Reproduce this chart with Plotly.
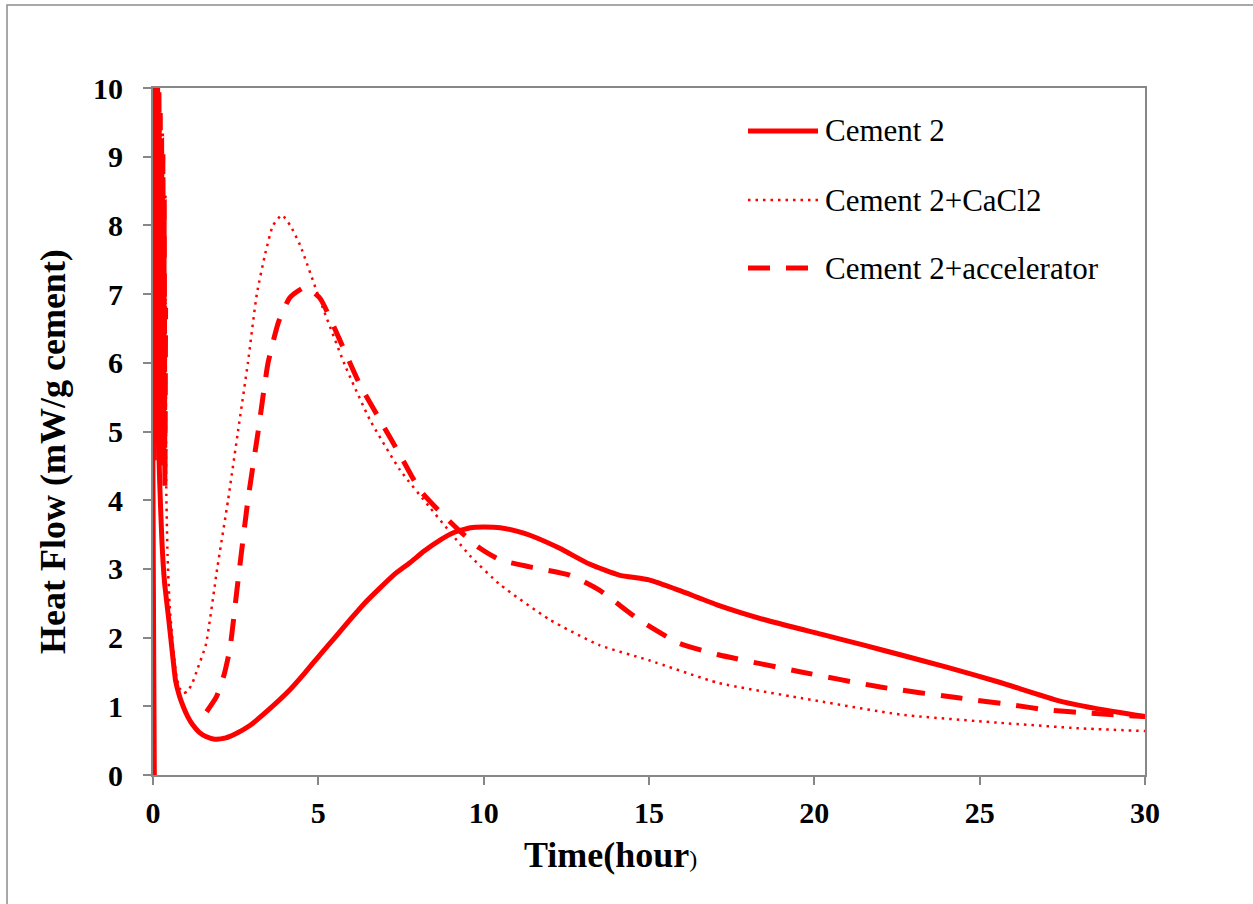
import plotly.graph_objects as go

# ---- data ----
cement2_t = [0.04, 0.045, 0.07, 0.09, 0.12, 0.15, 0.2, 0.27, 0.35, 0.48, 0.61, 0.68, 0.8, 0.92,
             1.05, 1.2, 1.4, 1.6, 1.87, 2.2, 2.5, 2.93, 3.5, 4.14, 4.6, 5.05, 5.5, 5.96, 6.4,
             6.86, 7.3, 7.77, 8.2, 8.68, 9.1, 9.6, 10.0, 10.5, 11.0, 11.4, 12.3, 13.2, 14.1,
             15.0, 15.9, 17.1, 18.5, 20.2, 21.5, 22.6, 24.0, 25.6, 27.4, 28.5, 30.0]
cement2_v = [0, 10.5, 10.5, 9.0, 7.0, 5.3, 4.3, 3.4, 2.8, 2.25, 1.67, 1.38, 1.15, 0.99,
             0.85, 0.73, 0.62, 0.56, 0.52, 0.54, 0.60, 0.72, 0.95, 1.24, 1.49, 1.75, 2.0, 2.26, 2.5,
             2.72, 2.92, 3.09, 3.26, 3.42, 3.53, 3.60, 3.61, 3.60, 3.55, 3.49, 3.30, 3.07, 2.91,
             2.84, 2.69, 2.47, 2.26, 2.05, 1.89, 1.75, 1.57, 1.35, 1.08, 0.97, 0.85]

cacl2_t = [0.02, 0.04, 0.06, 0.08, 0.1, 0.12, 0.14, 0.16, 0.18, 0.2, 0.22, 0.24, 0.26, 0.28,
           0.3, 0.32, 0.34, 0.36, 0.38, 0.4, 0.44, 0.5, 0.6, 0.72, 0.82, 0.92, 1.05, 1.2, 1.35,
           1.6, 1.94, 2.27, 2.57, 2.87, 3.14, 3.4, 3.63, 3.9, 4.15, 4.45, 5.05, 5.8, 6.56, 7.47,
           8.38, 9.59, 10.5, 12.0, 13.5, 15.0, 17.1, 19.6, 22.6, 25.6, 28.0, 30.0]
cacl2_v = [10.5, 8.0, 10.4, 7.5, 10.3, 7.2, 10.1, 6.8, 9.9, 6.4, 9.6, 6.0, 9.2, 5.6,
           8.8, 5.2, 8.2, 4.8, 7.0, 4.2, 3.2, 2.5, 1.9, 1.4, 1.25, 1.19, 1.22, 1.35, 1.55,
           1.9, 3.0, 4.0, 5.0, 6.0, 7.0, 7.6, 8.0, 8.15, 8.0, 7.71, 6.91, 5.97, 5.17, 4.44,
           3.89, 3.19, 2.77, 2.26, 1.89, 1.67, 1.34, 1.12, 0.88, 0.76, 0.68, 0.64]

accel_t = [0.02, 0.04, 0.06, 0.08, 0.1, 0.12, 0.14, 0.16, 0.18, 0.2, 0.22, 0.24, 0.26, 0.28,
           0.3, 0.32, 0.34, 0.36, 0.38, None,
           1.62, 1.92, 2.15, 2.33, 2.54, 2.87, 3.18, 3.48, 3.8, 4.14, 4.6, 5.05, 5.65, 6.26,
           6.86, 7.47, 8.07, 8.68, 9.28, 9.89, 10.5, 11.4, 12.6, 13.5, 14.7, 15.9, 17.1, 19.6,
           22.0, 24.4, 26.0, 27.0, 28.3, 30.0]
accel_v = [10.5, 4.5, 10.4, 4.8, 10.3, 5.2, 10.1, 4.9, 9.9, 5.3, 9.6, 4.8, 9.3, 4.6,
           9.0, 4.4, 8.4, 4.2, 6.8, None,
           0.92, 1.14, 1.46, 1.85, 2.7, 4.0, 5.0, 6.0, 6.6, 6.95, 7.1, 6.94, 6.33, 5.68,
           5.17, 4.66, 4.15, 3.83, 3.55, 3.30, 3.13, 3.03, 2.91, 2.69, 2.26, 1.92, 1.75, 1.50,
           1.28, 1.12, 1.02, 0.95, 0.90, 0.85]

series_names = ["Cement 2", "Cement 2+CaCl2", "Cement 2+accelerator"]

RED = "#FF0000"
GRAY = "#878787"
FONT = "Times New Roman, Liberation Serif, serif"

styles = [dict(width=5, dash="solid"),
          dict(width=2.5, dash="2.5px,5px"),
          dict(width=5, dash="22px,16px")]

fig = go.Figure()
for t, v, st in zip([cement2_t, cacl2_t, accel_t], [cement2_v, cacl2_v, accel_v], styles):
    fig.add_trace(go.Scatter(x=t, y=v, mode="lines", showlegend=False,
                             line=dict(color=RED, width=st["width"], dash=st["dash"],
                                       shape="spline", smoothing=0.5),
                             connectgaps=False))

W, H = 1253, 904
L, R, T, B = 153, 108, 88, 129
pw, ph = W - L - R, H - T - B

def px_x(x):
    return (x - L) / pw

def px_y(y):
    return (H - B - y) / ph

fig.update_layout(
    width=W, height=H,
    margin=dict(l=L, r=R, t=T, b=B),
    paper_bgcolor="white", plot_bgcolor="white",
    font=dict(family=FONT, color="black"),
    xaxis=dict(range=[0, 30], dtick=5, tick0=0, showgrid=False, zeroline=False,
               showline=True, linecolor=GRAY, linewidth=2, mirror=True,
               ticks="outside", ticklen=8, tickcolor=GRAY, tickwidth=2,
               tickfont=dict(family=FONT, size=30, weight="bold", color="black"),
               ticklabelstandoff=2),
    yaxis=dict(range=[0, 10], dtick=1, tick0=0, showgrid=False, zeroline=False,
               showline=True, linecolor=GRAY, linewidth=2, mirror=True,
               ticks="outside", ticklen=8, tickcolor=GRAY, tickwidth=2,
               tickfont=dict(family=FONT, size=30, weight="bold", color="black"),
               ticklabelstandoff=14),
)

# outer chart border
fig.add_shape(type="rect", xref="paper", yref="paper",
              x0=px_x(7), x1=px_x(1300), y0=px_y(950), y1=px_y(5),
              line=dict(color="#8C8C8C", width=1.5), fillcolor="rgba(0,0,0,0)", layer="below")

# axis titles
fig.add_annotation(xref="paper", yref="paper", x=px_x(53), y=px_y(452), textangle=-90,
                   text="<b>Heat Flow (mW/g cement)</b>", showarrow=False,
                   font=dict(family=FONT, size=36, color="black"),
                   xanchor="center", yanchor="middle")
fig.add_annotation(xref="paper", yref="paper", x=px_x(610), y=px_y(855),
                   text="<b>Time(hour</b><span style='font-size:24px'>)</span>", showarrow=False,
                   font=dict(family=FONT, size=36, color="black"),
                   xanchor="center", yanchor="middle")

# legend (drawn manually)
leg_y = [131, 200, 268]
for name, st, yy in zip(series_names, styles, leg_y):
    fig.add_shape(type="line", xref="paper", yref="paper",
                  x0=px_x(748), x1=px_x(818), y0=px_y(yy), y1=px_y(yy),
                  line=dict(color=RED, width=st["width"], dash=st["dash"]))
    fig.add_annotation(xref="paper", yref="paper", x=px_x(823), y=px_y(yy),
                       text=name, showarrow=False, xanchor="left", yanchor="middle",
                       font=dict(family=FONT, size=31, color="black"))

fig.write_html("out.html")
